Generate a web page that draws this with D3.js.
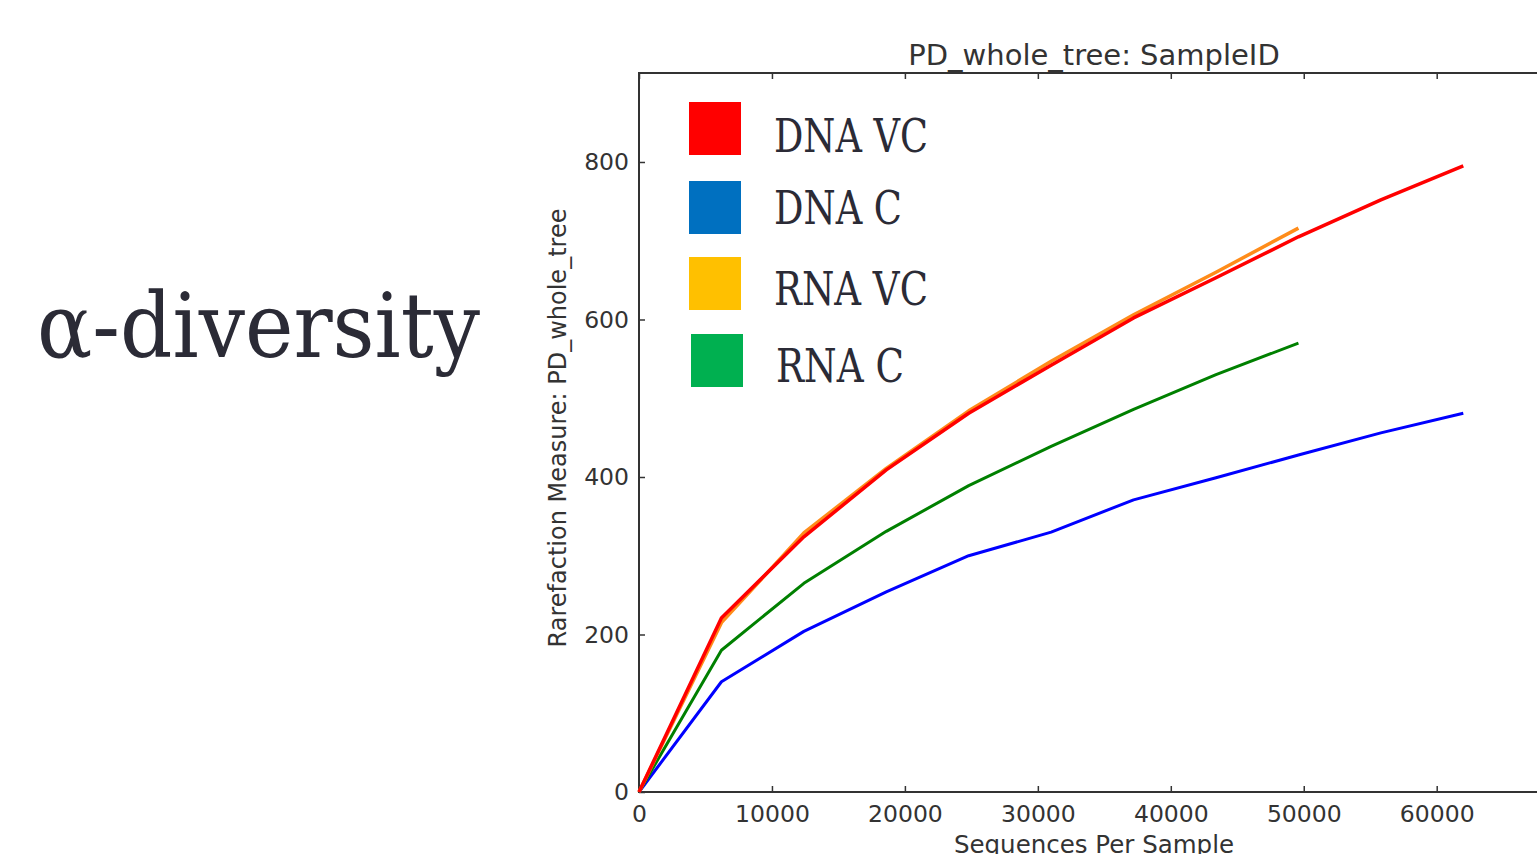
<!DOCTYPE html>
<html>
<head>
<meta charset="utf-8">
<script src="https://cdn.jsdelivr.net/npm/d3@7"></script>
<style>
  html, body { margin: 0; padding: 0; background: #fff; overflow: hidden; }
  svg { display: block; }
  .tick text { font-family: "DejaVu Sans", sans-serif; font-size: 23.5px; fill: #333; }
</style>
</head>
<body>
<svg id="chart"></svg>
<script>
// sequences per sample (rarefaction depths)
var depths = [0, 6200, 12400, 18600, 24800, 31000, 37200, 43400, 49600, 55800, 62000];

// PD_whole_tree per group
var dnaVC = [0, 221, 324, 409, 481, 542, 602, 653, 705, 752, 795];
var dnaC  = [0, 140, 204, 254, 300, 330, 371, 399, 428, 456, 481];
var rnaVC = [0, 215, 329, 411, 484, 547, 606, 660, 716];
var rnaC  = [0, 180, 265, 331, 389, 439, 486, 530, 570];

var legendNames  = ["DNA VC", "DNA C", "RNA VC", "RNA C"];
var legendColors = ["#ff0000", "#0070c0", "#ffc000", "#00b050"];

var xTicks = [0, 10000, 20000, 30000, 40000, 50000, 60000];
var yTicks = [0, 200, 400, 600, 800];

var W = 1537, H = 854;
var mLeft = 639, mTop = 73, mBottom = 792;

var svg = d3.select("#chart").attr("width", W).attr("height", H);

var xScale = d3.scaleLinear().domain([0, 70000]).range([mLeft, mLeft + 70000 * 0.013295]);
var yScale = d3.scaleLinear().domain([0, 913]).range([mBottom, mTop]);

// big slide title on the left
svg.append("text")
    .attr("x", 37).attr("y", 357)
    .attr("font-family", "DejaVu Serif, serif")
    .attr("font-size", 90)
    .attr("fill", "#2b2b36")
    .attr("textLength", 443)
    .attr("lengthAdjust", "spacingAndGlyphs")
    .text("α-diversity");

// axes (inward ticks, matplotlib style)
svg.append("g")
    .attr("class", "x axis")
    .attr("transform", "translate(0," + mBottom + ")")
    .call(d3.axisBottom(xScale).tickValues(xTicks).tickSize(-6).tickPadding(13).tickFormat(d3.format("d")))
    .call(function(g){ g.select(".domain").remove(); });

svg.append("g")
    .attr("class", "x axis top")
    .attr("transform", "translate(0," + mTop + ")")
    .call(d3.axisTop(xScale).tickValues(xTicks).tickSize(-6).tickFormat(""))
    .call(function(g){ g.select(".domain").remove(); });

svg.append("g")
    .attr("class", "y axis")
    .attr("transform", "translate(" + mLeft + ",0)")
    .call(d3.axisLeft(yScale).tickValues(yTicks).tickSize(-6).tickPadding(10))
    .call(function(g){ g.select(".domain").remove(); });

svg.selectAll(".tick line").attr("stroke", "#333").attr("stroke-width", 1.5);

// frame
svg.append("path")
    .attr("d", "M" + W + "," + mTop + "H" + mLeft + "V" + mBottom + "H" + W)
    .attr("fill", "none")
    .attr("stroke", "#333")
    .attr("stroke-width", 2);

// lines
var line = d3.line()
    .x(function(d, i){ return xScale(depths[i]); })
    .y(function(d){ return yScale(d); });

var series = [
    {vals: dnaC,  color: "#0000ff", w: 3},
    {vals: rnaC,  color: "#008000", w: 3},
    {vals: rnaVC, color: "#ff8c1a", w: 3.5},
    {vals: dnaVC, color: "#ff0000", w: 3.5}
];
series.forEach(function(s){
    svg.append("path")
        .datum(s.vals)
        .attr("d", line)
        .attr("fill", "none")
        .attr("stroke", s.color)
        .attr("stroke-width", s.w)
        .attr("stroke-linejoin", "round");
});

// titles
svg.append("text")
    .attr("x", 1094).attr("y", 65)
    .attr("text-anchor", "middle")
    .attr("font-family", "DejaVu Sans, sans-serif")
    .attr("font-size", 29)
    .attr("fill", "#333")
    .text("PD_whole_tree: SampleID");

svg.append("text")
    .attr("x", 1094).attr("y", 853)
    .attr("text-anchor", "middle")
    .attr("font-family", "DejaVu Sans, sans-serif")
    .attr("font-size", 24.5)
    .attr("fill", "#333")
    .text("Sequences Per Sample");

svg.append("text")
    .attr("transform", "translate(566,428) rotate(-90)")
    .attr("text-anchor", "middle")
    .attr("font-family", "DejaVu Sans, sans-serif")
    .attr("font-size", 24)
    .attr("fill", "#333")
    .text("Rarefaction Measure: PD_whole_tree");

// legend
var legendY = [102, 181, 257, 334];
var legendX = [689, 689, 689, 691];
var legendTextY = [152, 224, 305, 382];
var legendTextW = [154, 128, 154, 128];

var lg = svg.append("g").attr("class", "legend");
legendNames.forEach(function(name, i){
    lg.append("rect")
        .attr("x", legendX[i]).attr("y", legendY[i])
        .attr("width", 52).attr("height", 53)
        .attr("fill", legendColors[i]);
    lg.append("text")
        .attr("x", legendX[i] + 85).attr("y", legendTextY[i])
        .attr("font-family", "DejaVu Serif, serif")
        .attr("font-size", 47)
        .attr("fill", "#2b2b36")
        .attr("textLength", legendTextW[i])
        .attr("lengthAdjust", "spacingAndGlyphs")
        .text(name);
});
</script>
</body>
</html>
